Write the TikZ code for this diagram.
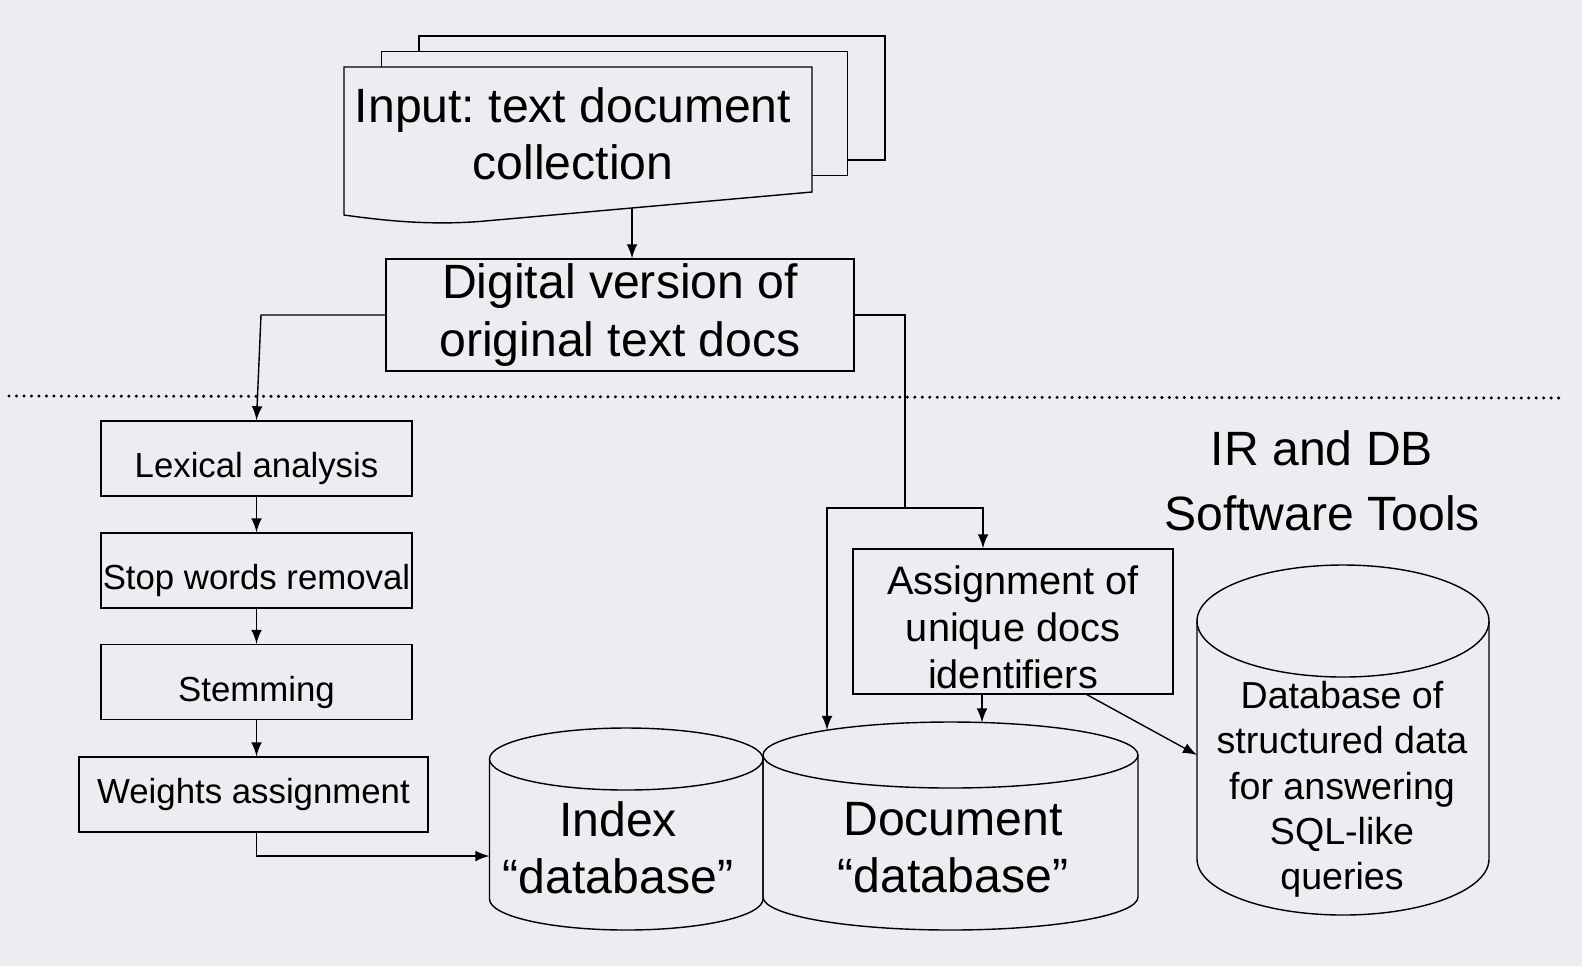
\documentclass[tikz,border=0pt]{standalone}
\usepackage{fontspec}
\setmainfont{Liberation Sans}
\frenchspacing
\usepackage{tikz}
\usetikzlibrary{arrows,positioning}

\definecolor{slidebg}{RGB}{236,237,240}

\tikzset{
  bigtxt/.style={font=\fontsize{13.7}{16.3}\selectfont, align=center},
  procbox/.style={draw, minimum width=3.11cm, minimum height=0.75cm, inner xsep=0pt, font=\fontsize{9.9}{12}\selectfont},
  lowtxt/.style={text height=11pt, text depth=0pt},
  sheet/.style={draw, fill=slidebg},
  conn/.style={-latex}
}

% cylinder: centre x, centre y of the top, x radius, y radius, height
\newcommand{\dbdrum}[5]{
  \draw (#1,#2) ellipse (#3 and #4);
  \draw (#1-#3,#2) -- ++(0,-#5) arc (180:360:#3 and #4) -- ++(0,#5);
}

\begin{document}
\begin{tikzpicture}
\fill[slidebg] (0,0) rectangle (15.82,-9.66);
\useasboundingbox (0,0) rectangle (15.82,-9.66);

% stack of documents
\foreach \i in {2,1}
  \draw[sheet] (3.44+0.375*\i,-0.67+0.155*\i) rectangle ++(4.66,-1.24);
\draw[sheet] (3.44,-0.67) -- (8.12,-0.67) -- (8.12,-1.92) -- (4.85,-2.21)
  .. controls (4.30,-2.26) and (3.80,-2.20) .. (3.44,-2.15) -- cycle;
\node[bigtxt] (input) at (5.73,-1.34) {Input: text document\\collection};
\coordinate (inbot) at (6.32,-2.08);

\node[bigtxt, draw, inner ysep=0pt, minimum width=4.68cm, minimum height=1.12cm] (digital) at (6.20,-3.15)
  {Digital version of\\original text docs};
\draw[conn] (inbot) -- (inbot |- digital.north);

% dividing line
\draw[line width=0.95pt, dash pattern=on 0pt off 2.13pt, line cap=round] (0.09,-3.96) -- (15.64,-3.98);

% text operations
\node[procbox, lowtxt] (lex) at (2.565,-4.585) {Lexical analysis};
\node[procbox, lowtxt] (stop) at (2.565,-5.705) {Stop words removal};
\node[procbox, lowtxt] (stem) at (2.565,-6.82) {Stemming};
\node[procbox, minimum width=3.49cm] (wgt) at (2.535,-7.945) {Weights assignment};
\draw[conn] (digital.west) -- (2.61,-3.15) -- (lex.north);
\foreach \a/\b in {lex/stop,stop/stem,stem/wgt}
  \draw[conn] (\a.south) -- (\a.south |- \b.north);

% databases
\dbdrum{6.2625}{-7.59}{1.3675}{0.31}{1.40}
\dbdrum{9.505}{-7.55}{1.875}{0.33}{1.42}
\dbdrum{13.43}{-6.21}{1.46}{0.56}{2.38}
\node[bigtxt] (idx) at (6.18,-8.475) {Index\\“database”};
\node[bigtxt] (docdb) at (9.53,-8.475) {Document\\“database”};
\node[font=\fontsize{10.7}{12.9}\selectfont, align=center] (sqldb) at (13.42,-7.895)
  {Database of\\structured data\\for answering\\SQL-like\\queries};
\coordinate (idxin) at (4.895,-8.56);
\coordinate (docin1) at (8.27,-7.30);
\coordinate (docin2) at (9.82,-7.225);
\coordinate (sqlin) at (11.97,-7.55);
\draw[conn] (stem.south |- wgt.south) |- (idxin);

% document identifiers
\node[draw, inner ysep=0pt, minimum width=3.20cm, minimum height=1.45cm, font=\fontsize{11.3}{13.4}\selectfont, align=center]
  (assign) at (10.13,-6.215) {\rule{0pt}{11.6pt}Assignment of\\unique docs\\identifiers};
\coordinate (split) at (9.05,-5.08);
\draw (digital.east) -| (split);
\draw[conn] (split) -| (docin1);
\draw[conn] (split) -| ([xshift=-0.30cm]assign.north);
\draw[conn] ([xshift=-0.31cm]assign.south) -- (docin2);
\draw[conn] ([xshift=0.74cm]assign.south) -- (sqlin);

\node[font=\fontsize{13.7}{18.5}\selectfont, align=center] (tools) at (13.22,-4.805)
  {IR and DB\\Software Tools};
\end{tikzpicture}
\end{document}
